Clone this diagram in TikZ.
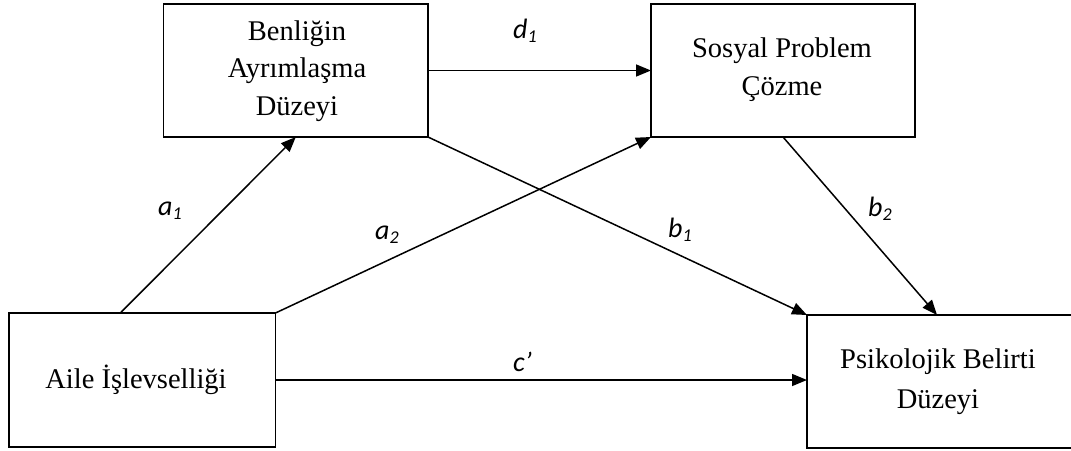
\documentclass[tikz,border=0pt]{standalone}
\usepackage{fontspec}
\setmainfont{Liberation Serif}
\newfontfamily\lblfont{Carlito}
\usetikzlibrary{arrows.meta,calc}
\newcommand\lblsub[2]{#1\raisebox{-4pt}{\fontsize{18}{18}\selectfont #2}}
\tikzset{
  box/.style={draw, line width=1.7pt, inner sep=0pt, outer sep=0pt},
  boxtext/.style={inner sep=0pt, anchor=base, align=center},
  arr/.style={line width=1.5pt, -{Triangle[length=15pt,width=12pt]}},
  lbl/.style={inner sep=0pt, anchor=base west, font=\lblfont\itshape\fontsize{28}{28}\selectfont},
}
\begin{document}
\begin{tikzpicture}[x=1pt,y=-1pt]
\useasboundingbox (0,0) rectangle (1071,450);
% boxes
\node[box, minimum width=264.4pt, minimum height=133pt] (B) at (295.8,70.5) {};
\node[box, minimum width=264pt, minimum height=133pt] (S) at (783,70.5) {};
\node[box, minimum width=266.2pt, minimum height=134pt] (A) at (142.4,380) {};
\node[box, minimum width=266pt, minimum height=133pt] (P) at (940,381.5) {};
% texts (anchored at the baseline of the last line)
\node[boxtext, font=\fontsize{28.5}{37.5}\selectfont] (Bt) at (297,115) {Benliğin\\Ayrımlaşma\\Düzeyi};
\node[boxtext, font=\fontsize{28.5}{38}\selectfont] (St) at (782,95) {Sosyal Problem\\Çözme};
\node[boxtext, font=\fontsize{28.5}{38}\selectfont] (At) at (136,388) {Aile İşlevselliği};
\node[boxtext, font=\fontsize{28.5}{40}\selectfont] (Pt) at (938,408) {Psikolojik Belirti\\Düzeyi};
% connectors
\draw[arr] ($(A.north west)!0.417!(A.north east)$) -- (B.south);
\draw[arr] (A.north east) -- (S.south west);
\draw[arr] (B.east) -- (S.west);
\draw[arr] (B.south east) -- (P.north west);
\draw[arr] (S.south) -- ($(P.north west)!0.489!(P.north east)$);
\draw[arr] (A.east) -- (A.east -| P.west);
% labels
\node[lbl] (ld1) at (513,38) {\lblsub{d}{1}};
\node[lbl] (la1) at (158,215) {\lblsub{a}{1}};
\node[lbl] (la2) at (375,239) {\lblsub{a}{2}};
\node[lbl] (lb1) at (668,237) {\lblsub{b}{1}};
\node[lbl] (lb2) at (868,216) {\lblsub{b}{2}};
\node[lbl] (lc) at (513,371) {c’};
\end{tikzpicture}
\end{document}
